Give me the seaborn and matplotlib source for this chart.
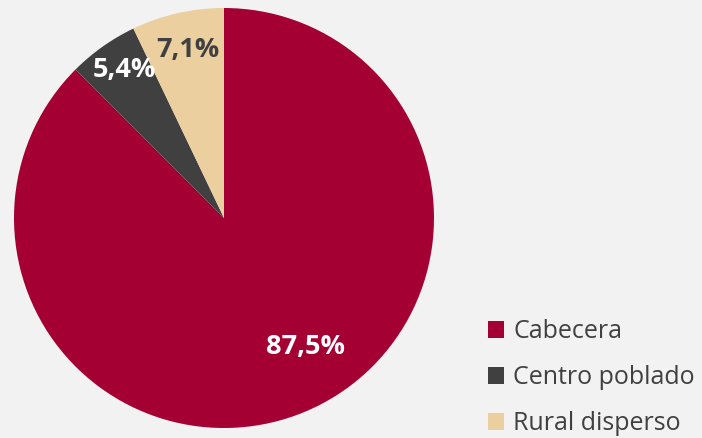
# Pie chart: share by area type

import matplotlib
matplotlib.use("Agg")
import matplotlib.pyplot as plt
import seaborn as sns

# Data
categories = ["Cabecera", "Centro poblado", "Rural disperso"]
shares = [87.5, 5.4, 7.1]
labels = ["87,5%", "5,4%", "7,1%"]

# Style
sns.set_style("white")
plt.rcParams["font.family"] = ["Open Sans", "DejaVu Sans"]
colors = ["#A50034", "#404040", "#EBCF9E"]
label_colors = ["white", "white", "#404040"]
bg = "#F2F2F2"

fig = plt.figure(figsize = (7.02, 4.38), dpi = 100, facecolor = bg)
ax = fig.add_axes([14 / 702, 10 / 438, 420 / 702, 420 / 438])
ax.set_facecolor(bg)

wedges, _ = ax.pie(shares, colors = colors, startangle = 90, counterclock = False,
                   radius = 1, wedgeprops = dict(linewidth = 0))
ax.set_xlim(-1, 1)
ax.set_ylim(-1, 1)
ax.set_aspect("equal")
ax.axis("off")

# Percentage labels
label_pos = [(0.39, -0.615), (-0.475, 0.705), (-0.17, 0.80)]
for txt, (x, y), c in zip(labels, label_pos, label_colors):
    ax.text(x, y, txt, ha = "center", va = "center", color = c,
            fontsize = 19.5, fontweight = "bold")

# Legend
fig.legend(wedges, categories, loc = "upper left", bbox_to_anchor = (488 / 702, 1 - 319 / 438),
           frameon = False, fontsize = 18, handlelength = 0.65, handleheight = 0.65,
           handletextpad = 0.36, labelspacing = 0.84, borderpad = 0, borderaxespad = 0,
           labelcolor = "#404040")

fig.savefig("out.png", dpi = 100, facecolor = bg)
